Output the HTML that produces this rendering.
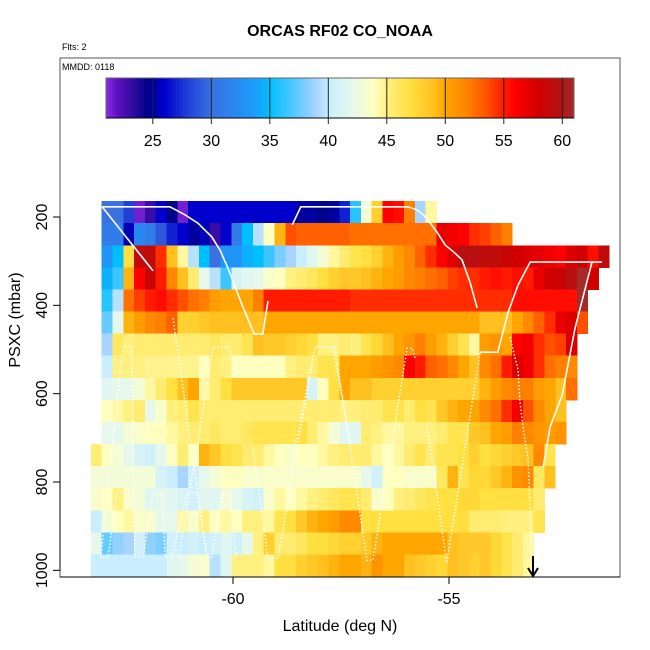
<!DOCTYPE html>
<html><head><meta charset="utf-8"><title>ORCAS RF02 CO_NOAA</title>
<style>
html,body{margin:0;padding:0;background:#fff;}
svg{display:block;font-family:"Liberation Sans",Arial,sans-serif;}
</style></head>
<body>
<svg id="chart" width="650" height="650" viewBox="0 0 650 650" xmlns="http://www.w3.org/2000/svg">
  <rect x="0" y="0" width="650" height="650" fill="#fff"/>
  <text x="340" y="36" text-anchor="middle" font-size="16" font-weight="bold">ORCAS RF02 CO_NOAA</text>
  <text x="62" y="50" font-size="9">Flts: 2</text>
  <text x="62" y="70" font-size="9">MMDD: 0118</text>
  <g id="cells" shape-rendering="crispEdges"></g>
  <g id="tracks"></g>
  <g id="cbar"></g>
  <rect x="60" y="58" width="560" height="519" fill="none" stroke="#555" stroke-width="1"/>
  <g id="axes"></g>
  <text x="340" y="631" text-anchor="middle" font-size="16">Latitude (deg N)</text>
  <text x="0" y="0" transform="translate(20,320) rotate(-90)" text-anchor="middle" font-size="16">PSXC (mbar)</text>
  <g>
    <line x1="533" y1="556" x2="533" y2="575" stroke="#000" stroke-width="2"/>
    <polyline points="528,568 533,576 538,568" fill="none" stroke="#000" stroke-width="2"/>
  </g>
</svg>
<script>
const latStart = -63.29;
const latBinWidth = 0.25;
const presTop = 164;
const presBinHeight = 50;
const xTicks = [-60, -55];
const yTicks = [200, 400, 600, 800, 1000];
const cbarTicks = [25, 30, 35, 40, 45, 50, 55, 60];
const cbarRange = [21, 61];
const N = null;
const coValues = [
[N,30,30,28,21.5,23,26,24.5,21.5,26,26,26,26,26,26,26,26,26,26,25,25,24.5,25,27,36,43,48,56,55.5,52,39,44.5,N,N,N,N,N,N,N,N,N,N,N,N,N,N,N,N],
[N,31,31,25.5,32,31,29,27,26,25,25.5,23,26,31,35,39.5,44,49.5,53.5,53,53,53,53,53,52.5,52.5,52.5,52.5,52.5,52.5,52.5,52.5,57,56.5,56,54.5,54,53,52,N,N,N,N,N,N,N,N,N],
[N,33,35,47,59,59,54.5,49,44.5,39.5,35,30,33,33,34.5,35,36.5,38,39,40,41.5,43,44.5,45.5,46.5,47,48,49.5,50.5,51.5,53,54.5,56,57.5,59.5,59.5,59,59,58.5,58,57.5,57,56.5,56,57.5,58,55.5,59],
[N,34.5,36.5,49.5,56,58.5,55,51.5,49,45.5,42,39.5,36.5,41,41.5,42,43.5,44,45,45.5,46,47,48,48.5,48.5,49,49.5,50,50.5,51.5,52,52.5,53,54,54.5,54.5,55,55.5,55,55.5,55,57,58,58.5,59.5,61,58,N],
[N,36,39.5,52.5,54,55,55.5,54.5,53.5,52.5,52,50.5,50,50,50,52,55,55,55,55,55,55,55,55,54.5,54.5,54.5,54.5,54.5,54.5,54.5,54.5,54.5,54.5,54.5,54.5,54.5,54.5,54.5,55.5,55.5,55.5,55.5,55.5,55.5,61,N,N],
[N,37.5,42,49.5,50.5,51.5,52,53,48,48,48.5,49,49,49,49,49,50,50,50,50,50,50,50,50,50,50,50,50,50,50,50,50,50,50,50,50,49,49,49,50,51.5,53,54.5,57,57.5,53.5,N,N],
[N,39,46,45,45.5,45.5,45.5,45.5,45.5,45.5,45.5,46,45.5,45.5,46.5,49,48.5,48.5,48,47.5,47,45,45,45.5,45,46.5,47.5,49,50,51,52,50.5,49.5,48,46.5,44.5,50.5,51,50,56,56.5,54.5,53.5,54,57.5,N,N,N],
[N,40,45,45,45,44.8,44.8,44.8,44.8,44.8,44,45.5,45,44,44,44,44,44,45,45.5,45.5,46.5,46.5,50,50,50,50.5,51,51.5,56,55,53,52.5,51.5,50,49,51.5,52.5,55,57.5,56.5,54.5,52.5,52,51.5,N,N,N],
[N,41.5,42,42,43,44.5,45.5,47,49,50,44.5,45.5,47,48.5,48.5,48.5,48.5,48.5,48.5,48.5,41,44,47,50,49,49,48,48,48,48,48,48,48,48,48,48,49.5,50.5,51.5,52,52,50.5,50,49,52.5,N,N,N],
[N,44,44.5,45,45.5,42,43.5,45,45.5,46.5,45.5,45.5,45.5,45.5,45.5,45.5,45.5,45.5,45.5,45.5,45.5,45.5,45.5,45,45,45.5,45.5,46.5,46.5,45.5,47,46.5,48.5,49.5,50,50,51.5,52.5,54.5,56.5,53.5,51.5,50,49,N,N,N,N],
[N,42,42,43,43.5,44,44,44.5,45,45.5,45.5,46,45.5,45.5,46,46.5,46.5,46.5,46.5,47,45.5,44.5,43,41.5,41.5,45.5,45,44.5,44.5,45,45,45,45.5,46.5,46.5,48.5,49,50,50.5,52,51.5,51,50.5,51,N,N,N,N],
[45.5,44,43,42,41,40.5,42,44,45.5,44,49.5,48.5,47,46.5,45.5,45.5,44.5,44,43.5,44,44,44.5,45,45.5,45.5,45.5,44.5,44,44.5,45.5,46.5,45.5,46.5,46.5,47,48,47,47.5,48,48.5,49,51.5,46.5,N,N,N,N,N],
[43,43,43,43,43,43,41,40,39,40.5,42,43,44,44,43.5,43.5,43.5,43.5,43.5,43.5,43.5,43.5,43.5,43.5,43.5,42,40.5,44,44,43.5,43.5,43.5,46,49.5,46.5,47.5,47.5,48.5,49.5,51,51.5,46,49,N,N,N,N,N],
[43.5,44,45,43.5,43,41.5,42,41.5,41,40.5,41.5,41.5,43,42,41,40.5,43.5,44.5,44,44.5,45,45.5,46,46.5,46.5,45.5,43.5,44,45,45.5,46,46.5,47,47,47.5,47.5,47,47,47,47,47,45.5,N,N,N,N,N,N],
[40,43,44,44.5,43.5,43.5,42,42,44.5,43.5,45,44,44.5,44,45,45,44.5,46.5,47,48.5,49.5,50,50.5,51.5,51.5,47,47,47,47,47,47,47,47,47,47,45.5,45.5,45.5,45,45,45,46.5,N,N,N,N,N,N],
[42,37.5,38.5,39,40.5,38.5,38,40.5,40,40.5,40,40.5,41.5,40.5,42,45,48,45.5,45.5,46,47,47,47.5,48,48,48.5,49.5,50,50,50,50,50,50,49,48.5,48.5,48.5,47.5,46.5,45.5,44.5,N,N,N,N,N,N,N],
[40,40,40,40,40,40,40,41.5,42,43,43.5,39.5,41.5,45,45,45,44.5,47,47,48,48.5,49,49.5,50,50,49.5,51,50,50,49,48.5,48,47.5,49,48.5,48,48.5,47.5,46.5,45.5,44.5,N,N,N,N,N,N,N]
];
// flight track segments (latitude, pressure)
const trackSolidLat = [
 [-63.03,-61.46,-61.11,-60.81,-60.49,-60.30,-60.12,-59.79,-59.51,-59.31,-59.19],
 [-63.03,-61.85],
 [-58.63,-58.43,-55.95,-55.74,-55.56,-55.28,-55.09,-54.86,-54.70,-54.51,-54.35],
 [-54.28,-53.87,-53.63,-53.40,-53.12,-51.46],
 [-51.69,-52.08,-52.38,-52.66,-52.82]
];
const trackSolidP = [
 [177,177,195,214,245,275,315,399,465,465,390],
 [177,322],
 [218,177,177,184,198,234,263,282,297,349,406],
 [506,506,415,354,302,302],
 [302,451,603,675,766]
];
const trackDotLat = [
 [-62.57,-62.69,-62.89,-63.06,-62.55,-62.34,-62.27,-62.08,-61.85,-61.64,-61.57,-61.41],
 [-61.25,-60.46,-60.12,-59.86],
 [-61.39,-60.60,-60.49,-60.25,-60.07,-59.93],
 [-61.41,-61.06,-60.83,-60.60],
 [-59.54,-59.19,-58.96,-58.10,-57.69,-57.29],
 [-58.68,-58.10,-57.64,-56.90,-56.76,-55.97,-55.86,-55.79],
 [-55.51,-55.05,-54.28],
 [-53.59,-53.40,-53.36,-53.29,-53.17,-53.08]
];
const trackDotP = [
 [825,825,970,970,494,494,970,970,825,825,970,970],
 [970,494,494,569],
 [429,970,970,825,825,970],
 [970,825,825,970],
 [723,972,972,494,494,709],
 [780,494,494,977,977,497,497,519],
 [671,983,506],
 [472,546,614,675,750,970]
];
const colorStops = [
 [21,[138,43,226]],[22,[90,16,192]],[23.5,[42,10,154]],[24.5,[0,0,139]],[25,[0,0,160]],[26,[0,0,205]],
 [28,[32,64,216]],[30,[58,112,224]],[32,[40,136,240]],[34,[26,160,255]],[35,[0,191,255]],[37,[80,200,255]],
 [39,[168,212,255]],[40,[200,238,255]],[42,[230,248,236]],[44,[255,255,192]],[45,[255,240,128]],
 [47,[255,224,64]],[49,[255,192,32]],[50,[255,165,0]],[52,[255,128,0]],[54,[255,64,0]],[55,[255,26,0]],
 [56,[255,0,0]],[58,[208,0,0]],[60,[176,21,21]],[61,[165,42,42]]
];
</script>
<script>
const NS = "http://www.w3.org/2000/svg";
function xScale(lat){ return 233 + (lat + 60) * 43.2; }
function yScale(p){ return 217 + (p - 200) * 0.44167; }
function cmap(v){
  if (v <= colorStops[0][0]) return 'rgb(' + colorStops[0][1].join(',') + ')';
  for (let i = 1; i < colorStops.length; i++){
    if (v <= colorStops[i][0]){
      const a = colorStops[i-1], b = colorStops[i];
      const t = (v - a[0]) / (b[0] - a[0]);
      const c = a[1].map((c0, k) => Math.round(c0 + (b[1][k] - c0) * t));
      return 'rgb(' + c.join(',') + ')';
    }
  }
  return 'rgb(' + colorStops[colorStops.length-1][1].join(',') + ')';
}
function mk(tag, attrs, parent){
  const el = document.createElementNS(NS, tag);
  for (const k in attrs) el.setAttribute(k, attrs[k]);
  parent.appendChild(el);
  return el;
}
// heatmap
const gCells = document.getElementById('cells');
coValues.forEach((row, r) => {
  const y0 = yScale(presTop + r * presBinHeight), y1 = yScale(presTop + (r + 1) * presBinHeight);
  row.forEach((v, c) => {
    if (v === null) return;
    const x0 = xScale(latStart + c * latBinWidth), x1 = xScale(latStart + (c + 1) * latBinWidth);
    const el = mk('rect', {x: x0.toFixed(2), y: y0.toFixed(2), width: (x1 - x0 + 0.4).toFixed(2), height: (y1 - y0 + 0.4).toFixed(2), fill: cmap(v)}, gCells);
    
    
  });
});
// tracks
const gTr = document.getElementById('tracks');
trackSolidLat.forEach((lats, i) => {
  const pts = lats.map((la, j) => xScale(la).toFixed(1) + ',' + yScale(trackSolidP[i][j]).toFixed(1)).join(' ');
  const el = mk('polyline', {points: pts, fill: 'none', stroke: '#fff', 'stroke-width': 1.6}, gTr);
  
  
});
trackDotLat.forEach((lats, i) => {
  const pts = lats.map((la, j) => xScale(la).toFixed(1) + ',' + yScale(trackDotP[i][j]).toFixed(1)).join(' ');
  const el = mk('polyline', {points: pts, fill: 'none', stroke: '#fff', 'stroke-width': 1.5, 'stroke-dasharray': '1.5 2'}, gTr);
  
  
});
// colorbar
const gC = document.getElementById('cbar');
const cbX0 = 106, cbX1 = 574, cbY0 = 78, cbY1 = 118;
function cbScale(v){ return cbX0 + (v - cbarRange[0]) / (cbarRange[1] - cbarRange[0]) * (cbX1 - cbX0); }
const nSteps = 160;
for (let i = 0; i < nSteps; i++){
  const v0 = cbarRange[0] + (cbarRange[1] - cbarRange[0]) * i / nSteps;
  const v1 = cbarRange[0] + (cbarRange[1] - cbarRange[0]) * (i + 1) / nSteps;
  const el = mk('rect', {x: cbScale(v0).toFixed(2), y: cbY0, width: (cbScale(v1) - cbScale(v0) + 0.5).toFixed(2), height: cbY1 - cbY0, fill: cmap((v0 + v1) / 2), 'shape-rendering': 'crispEdges'}, gC);
  
  
}
const cbFrame = mk('rect', {x: cbX0, y: cbY0, width: cbX1 - cbX0, height: cbY1 - cbY0, fill: 'none', stroke: '#666', 'stroke-width': 1}, gC);


mk('line', {x1: cbX0, y1: cbY1, x2: cbX1, y2: cbY1, stroke: '#000', 'stroke-width': 1}, gC);
cbarTicks.forEach(t => {
  const x = cbScale(t);
  const ln = mk('line', {x1: x, y1: cbY0, x2: x, y2: cbY1 + 6, stroke: '#222', 'stroke-width': 1}, gC);
  
  
  const tx = mk('text', {x: x, y: cbY1 + 28, 'text-anchor': 'middle', 'font-size': 16}, gC);
  tx.textContent = t;
  
  
});
// axes
const gA = document.getElementById('axes');
const yAxisLine = mk('line', {x1: 60, y1: yScale(yTicks[0]), x2: 60, y2: yScale(yTicks[yTicks.length-1]), stroke: '#000', 'stroke-width': 1}, gA);


yTicks.forEach(t => {
  const y = yScale(t);
  const ln = mk('line', {x1: 53, y1: y, x2: 60, y2: y, stroke: '#000', 'stroke-width': 1}, gA);
  
  
  const tx = mk('text', {x: 0, y: 0, transform: 'translate(47,' + y.toFixed(1) + ') rotate(-90)', 'text-anchor': 'middle', 'font-size': 16}, gA);
  tx.textContent = t;
  
  
});
const xAxisLine = mk('line', {x1: 60, y1: 577, x2: 620, y2: 577, stroke: '#000', 'stroke-width': 1}, gA);


xTicks.forEach(t => {
  const x = xScale(t);
  const ln = mk('line', {x1: x, y1: 577, x2: x, y2: 584, stroke: '#000', 'stroke-width': 1}, gA);
  
  
  const tx = mk('text', {x: x, y: 604, 'text-anchor': 'middle', 'font-size': 16}, gA);
  tx.textContent = t;
  
  
});
</script>
</body></html>
